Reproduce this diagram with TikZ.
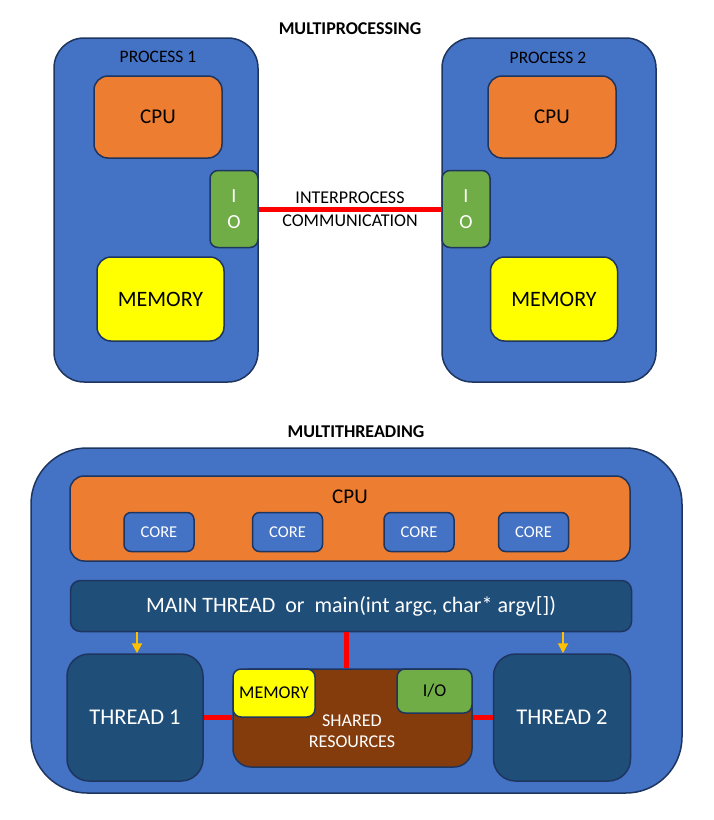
\documentclass[tikz,border=0pt]{standalone}
\usepackage{fontspec}
\setmainfont{Carlito}
\usetikzlibrary{arrows.meta}
\definecolor{procblue}{HTML}{4472C4}
\definecolor{edgeblue}{HTML}{1E3560}
\definecolor{cpuorange}{HTML}{ED7D31}
\definecolor{iogreen}{HTML}{70AD47}
\definecolor{memyellow}{HTML}{FFFF00}
\definecolor{thrblue}{HTML}{1F4E79}
\definecolor{shbrown}{HTML}{843C0C}
\definecolor{spawngold}{HTML}{FFC000}
\begin{document}
\begin{tikzpicture}[x=1pt,y=-1pt,
        box/.style={draw=edgeblue,line width=1.5pt,inner sep=0pt,align=center},
        link/.style={draw=red,line width=5pt},
        spawn/.style={draw=spawngold,line width=2pt,-{Triangle[width=10pt,length=10pt]}},
        title/.style={font=\fontsize{18}{21}\selectfont\bfseries}]
    \useasboundingbox (0,0) rectangle (714,820);
    %\draw[lightgray,step=50] (0,0) grid (714,820);
    % multiprocessing
    \node[title] (mptitle) at (350,29) {MULTIPROCESSING};
    \node[box,fill=procblue,minimum width=204,minimum height=344,rounded corners=30] (proc1) at (156,210) {};
    \node[box,fill=procblue,minimum width=214,minimum height=344,rounded corners=30] (proc2) at (549,210) {};
    \node[font=\fontsize{17.5}{20}\selectfont] (p1name) at (158,57) {PROCESS 1};
    \node[font=\fontsize{17.5}{20}\selectfont] (p2name) at (548,58) {PROCESS 2};
    \node[box,fill=cpuorange,minimum width=128,minimum height=82,rounded corners=14,
        font=\fontsize{21}{25}\selectfont] (cpu1) at (158,117) {CPU};
    \node[box,fill=cpuorange,minimum width=128,minimum height=82,rounded corners=14,
        font=\fontsize{21}{25}\selectfont] (cpu2) at (552,117) {CPU};
    \node[box,fill=iogreen,minimum width=48,minimum height=77,rounded corners=8,
        text=white,font=\fontsize{20}{26}\selectfont] (io1) at (234,209) {I\\O};
    \node[box,fill=iogreen,minimum width=48,minimum height=77,rounded corners=8,
        text=white,font=\fontsize{20}{26}\selectfont] (io2) at (466,209) {I\\O};
    \node[box,fill=memyellow,minimum width=127,minimum height=84,rounded corners=14,
        font=\fontsize{22}{26}\selectfont] (mem1) at (160.5,299) {MEMORY};
    \node[box,fill=memyellow,minimum width=127,minimum height=84,rounded corners=14,
        font=\fontsize{22}{26}\selectfont] (mem2) at (554,299) {MEMORY};
    \draw[link] (io1.east) -- node[align=center,inner sep=0pt,
        font=\fontsize{18}{23}\selectfont] (ipc) {INTERPROCESS\\COMMUNICATION} (io2.west);
    % multithreading
    \node[title] (mttitle) at (356,432) {MULTITHREADING};
    \node[box,fill=procblue,minimum width=651,minimum height=345,rounded corners=56] (host) at (356.5,620.5) {};
    \node[box,fill=cpuorange,minimum width=560,minimum height=85,rounded corners=14] (cpubar) at (350,518.5) {};
    \node[font=\fontsize{21}{25}\selectfont] (cpuname) at (350,497) {CPU};
    \foreach \cx [count=\i] in {159,287.5,419,533.5}
        \node[box,fill=procblue,minimum width=70,minimum height=39,rounded corners=7,
            text=white,font=\fontsize{16.5}{19}\selectfont] (core\i) at (\cx,532) {CORE};
    \node[box,fill=thrblue,minimum width=561,minimum height=51,rounded corners=10,
        text=white,font=\fontsize{22}{26}\selectfont] (mainthr) at (351,606)
        {MAIN THREAD\ \ or\ \ main(int argc, char* argv[])};
    \node[box,fill=thrblue,minimum width=136,minimum height=127,rounded corners=22,
        text=white,font=\fontsize{22.5}{26}\selectfont] (thr1) at (135,717.5) {THREAD 1};
    \node[box,fill=thrblue,minimum width=137,minimum height=127,rounded corners=22,
        text=white,font=\fontsize{22.5}{26}\selectfont] (thr2) at (562,717.5) {THREAD 2};
    \node[box,fill=shbrown,minimum width=239,minimum height=98,rounded corners=18] (shared) at (352.5,718) {};
    \node[box,fill=memyellow,minimum width=82,minimum height=48,rounded corners=8,
        font=\fontsize{18}{22}\selectfont] (shmem) at (274,693) {MEMORY};
    \node[box,fill=iogreen,minimum width=75,minimum height=44,rounded corners=8,
        font=\fontsize{18}{22}\selectfont] (shio) at (434.5,691) {I/O};
    \node[align=center,text=white,font=\fontsize{18}{21}\selectfont] (shname) at (352,731.5) {SHARED\\RESOURCES};
    \coordinate (tap) at (346,0);
    \coordinate (fork1) at (137,0);
    \coordinate (fork2) at (563,0);
    \draw[link] (mainthr.south -| tap) -- (shared.north -| tap);
    \draw[link] (thr1.east) -- (shared.west |- thr1.east);
    \draw[link] (shared.east |- thr2.west) -- (thr2.west);
    \draw[spawn] (mainthr.south -| fork1) -- (thr1.north -| fork1);
    \draw[spawn] (mainthr.south -| fork2) -- (thr2.north -| fork2);
\end{tikzpicture}
\end{document}
